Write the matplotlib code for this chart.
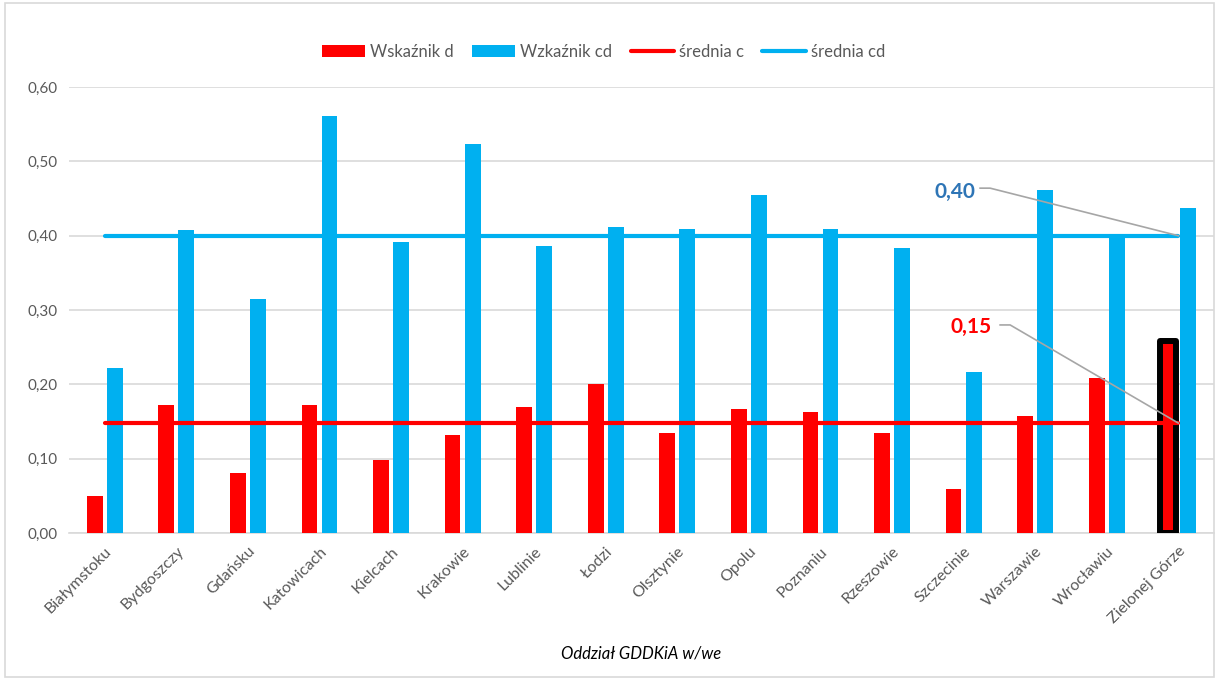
import numpy as np
import matplotlib.pyplot as plt
from matplotlib.patches import Rectangle

plt.rcParams['font.family'] = ['Lato', 'DejaVu Sans']

oddzialy = ['Białymstoku', 'Bydgoszczy', 'Gdańsku', 'Katowicach', 'Kielcach', 'Krakowie',
            'Lublinie', 'Łodzi', 'Olsztynie', 'Opolu', 'Poznaniu', 'Rzeszowie',
            'Szczecinie', 'Warszawie', 'Wrocławiu', 'Zielonej Górze']
wsk_d = [0.050, 0.172, 0.081, 0.172, 0.098, 0.132, 0.170, 0.200,
         0.135, 0.167, 0.163, 0.135, 0.059, 0.157, 0.209, 0.258]
wsk_cd = [0.222, 0.408, 0.315, 0.561, 0.392, 0.523, 0.386, 0.412,
          0.409, 0.455, 0.409, 0.383, 0.217, 0.461, 0.400, 0.437]
srednia_c = 0.148
srednia_cd = 0.400

RED = '#FF0000'
BLUE = '#00B0F0'
GRAY = '#595959'

fig = plt.figure(figsize=(12.19, 6.8), dpi=100)
fig.patches.append(Rectangle((0.004, 0.004), 0.992, 0.992, transform=fig.transFigure,
                             fill=False, edgecolor='#D9D9D9', linewidth=1.2))
ax = fig.add_axes([0.0566, 0.216, 0.9394, 0.656])

x = np.arange(len(oddzialy))
w = 0.22
bars_d = ax.bar(x - 0.14, wsk_d, w, color=RED, label='Wskaźnik d', zorder=3)
bars_cd = ax.bar(x + 0.14, wsk_cd, w, color=BLUE, label='Wzkaźnik cd', zorder=3)
# highlighted last bar
bars_d[-1].set_edgecolor('black')
bars_d[-1].set_linewidth(4.3)
bars_d[-1].set_joinstyle('round')

ln_c, = ax.plot([x[0], x[-1]], [srednia_c] * 2, color=RED, lw=3, solid_capstyle='round',
                label='średnia c', zorder=4)
ln_cd, = ax.plot([x[0], x[-1]], [srednia_cd] * 2, color=BLUE, lw=3, solid_capstyle='round',
                 label='średnia cd', zorder=4)

# leader labels
ax.plot([12.23, 12.37, x[-1]], [0.464, 0.464, srednia_cd], color='#A6A6A6', lw=1.2, zorder=5)
ax.text(11.88, 0.459, '0,40', color='#2E75B6', fontsize=15, fontweight='bold',
        ha='center', va='center')
ax.plot([12.51, 12.65, x[-1]], [0.280, 0.280, srednia_c], color='#A6A6A6', lw=1.2, zorder=5)
ax.text(12.11, 0.277, '0,15', color=RED, fontsize=15, fontweight='bold',
        ha='center', va='center')

ax.set_xlim(-0.5, len(oddzialy) - 0.5)
ax.set_ylim(0, 0.6)
yt = np.arange(0, 0.61, 0.1)
ax.set_yticks(yt)
ax.set_yticklabels([f'{v:.2f}'.replace('.', ',') for v in yt], color=GRAY, fontsize=11)
ax.set_xticks(x)
ax.set_xticklabels(oddzialy, rotation=45, ha='right', rotation_mode='anchor',
                   color=GRAY, fontsize=11.5)
ax.tick_params(length=0, pad=8)
ax.grid(axis='y', color='#D9D9D9', lw=1.2, zorder=0)
for s in ['top', 'right', 'left']:
    ax.spines[s].set_visible(False)
ax.spines['bottom'].set_color('#D9D9D9')
ax.spines['bottom'].set_linewidth(1.2)

ax.set_xlabel('Oddział GDDKiA w/we', fontsize=12, style='italic', color='black', labelpad=14)

fig.legend([bars_d, bars_cd, ln_c, ln_cd],
           ['Wskaźnik d', 'Wzkaźnik cd', 'średnia c', 'średnia cd'],
           loc='center', bbox_to_anchor=(0.495, 0.924), ncol=4, frameon=False,
           fontsize=12, labelcolor=GRAY, handlelength=2.6, handleheight=0.8,
           columnspacing=1.1, handletextpad=0.3)

fig.savefig('out.png', dpi=100)
